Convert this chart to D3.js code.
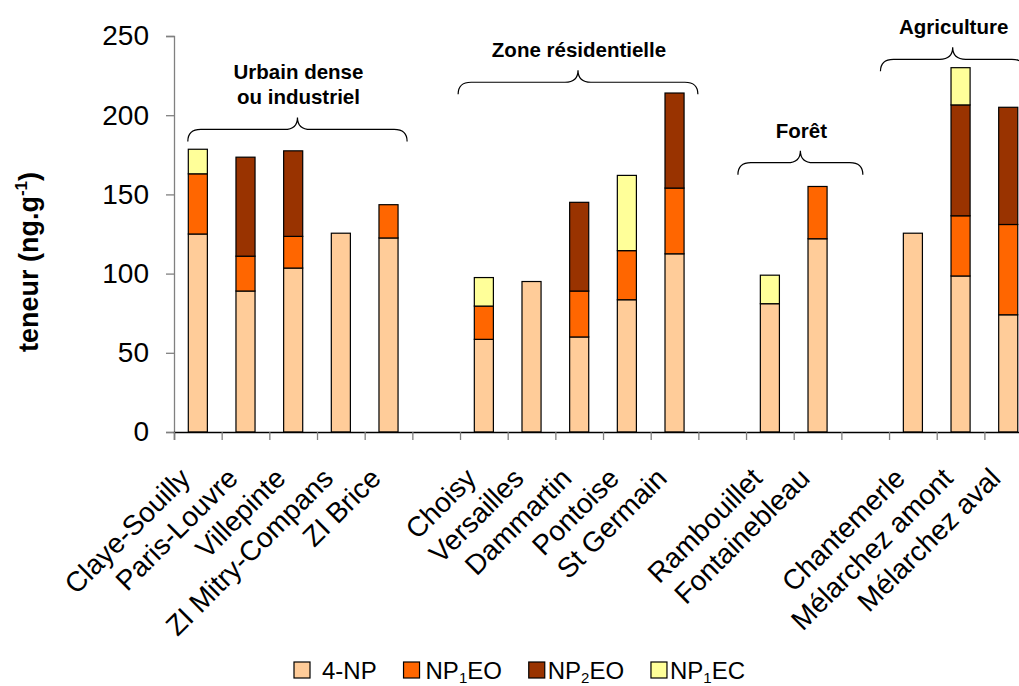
<!DOCTYPE html>
<html>
<head>
<meta charset="utf-8">
<script src="https://cdn.jsdelivr.net/npm/d3@7"></script>
<style>
  html, body { margin: 0; padding: 0; background: #fff; }
  svg { display: block; overflow: hidden; }
  text { font-family: "Liberation Sans", Arial, sans-serif; }
</style>
</head>
<body>
<svg id="chart" width="1019" height="686"></svg>
<script>
// ---------- data ----------
const categories = ["Claye-Souilly", "Paris-Louvre", "Villepinte", "ZI Mitry-Compans", "ZI Brice", "",
  "Choisy", "Versailles", "Dammartin", "Pontoise", "St Germain", "",
  "Rambouillet", "Fontainebleau", "",
  "Chantemerle", "Mélarchez amont", "Mélarchez aval"];
const np4   = [125, 89, 103.5, 125.5, 122.5, 0, 58.5, 95, 60, 83.5, 112.5, 0, 81, 122, 0, 125.5, 98.5, 74];
const np1eo = [38, 22, 20, 0, 21, 0, 21, 0, 29, 31, 41.5, 0, 0, 33, 0, 0, 38, 57];
const np2eo = [0, 62.5, 54, 0, 0, 0, 0, 0, 56, 0, 60, 0, 0, 0, 0, 0, 70, 74];
const np1ec = [15.5, 0, 0, 0, 0, 0, 18, 0, 0, 47.5, 0, 0, 18, 0, 0, 0, 23.5, 0];
const seriesKeys = ["np4", "np1eo", "np2eo", "np1ec"];
const seriesNames = [["4-NP"], ["NP", "1", "EO"], ["NP", "2", "EO"], ["NP", "1", "EC"]];
const seriesColors = ["#FFCC99", "#FF6600", "#993300", "#FFFF99"];
const yTicks = [0, 50, 100, 150, 200, 250];
// group annotations (braces): span in category units, level in y units
const braceLabels = [["Urbain dense", "ou industriel"], ["Zone résidentielle"], ["Forêt"], ["Agriculture"]];
const braceStart = [0.29, 5.96, 11.83, 14.82];
const braceEnd   = [4.89, 10.99, 14.45, 17.85];
const braceLevel = [191, 220.8, 170, 235.3];

// ---------- layout ----------
const svg = d3.select("#chart");
const x0 = 174, x1 = 174 + 18 * 47.67;
const yTop = 36, yBot = 432;

const xBand = d3.scaleBand().domain(d3.range(categories.length)).range([x0, x1])
  .paddingInner(0.6).paddingOuter(0.3);
const xLin = d3.scaleLinear().domain([0, categories.length]).range([x0, x1]);
const y = d3.scaleLinear().domain([0, 250]).range([yBot, yTop]);

const rows = categories.map((c, i) => ({ i, np4: np4[i], np1eo: np1eo[i], np2eo: np2eo[i], np1ec: np1ec[i] }));
const stacked = d3.stack().keys(seriesKeys)(rows);

// bars
stacked.forEach((layer, k) => {
  svg.append("g").selectAll("rect")
    .data(layer.filter(d => d[1] - d[0] > 0))
    .join("rect")
    .attr("x", d => xBand(d.data.i))
    .attr("width", xBand.bandwidth())
    .attr("y", d => y(d[1]))
    .attr("height", d => y(d[0]) - y(d[1]))
    .attr("fill", seriesColors[k])
    .attr("stroke", "#000")
    .attr("stroke-width", 1.2);
});

// y axis
const yAxis = svg.append("g").attr("transform", `translate(${x0},0)`)
  .call(d3.axisLeft(y).tickValues(yTicks).tickSize(8).tickPadding(17).tickFormat(d3.format("d")));
yAxis.select(".domain").attr("stroke", "#808080").attr("stroke-width", 1.3);
yAxis.selectAll(".tick line").attr("stroke", "#808080").attr("stroke-width", 1.3);
yAxis.selectAll(".tick text").attr("font-size", 28).attr("fill", "#000")
  .attr("font-family", "Liberation Sans, Arial, sans-serif");

// x axis (ticks between categories)
const xAxis = svg.append("g").attr("transform", `translate(0,${yBot})`)
  .call(d3.axisBottom(xLin).tickValues(d3.range(0, categories.length + 1)).tickSize(8).tickFormat(""));
xAxis.select(".domain").attr("stroke", "#000").attr("stroke-width", 1.3);
xAxis.selectAll(".tick line").attr("stroke", "#808080").attr("stroke-width", 1.3);

// category labels
svg.append("g").selectAll("text")
  .data(categories.map((c, i) => ({ c, i })).filter(d => d.c))
  .join("text")
  .attr("transform", d => `translate(${xBand(d.i) + xBand.bandwidth() / 2 - 6},${yBot + 48}) rotate(-45)`)
  .attr("text-anchor", "end")
  .attr("font-size", 28)
  .attr("fill", "#000")
  .text(d => d.c);

// y title
const yt = svg.append("text")
  .attr("transform", `translate(38,262) rotate(-90)`)
  .attr("text-anchor", "middle")
  .attr("font-size", 27)
  .attr("font-weight", "bold")
  .attr("fill", "#000");
yt.append("tspan").text("teneur (ng.g");
yt.append("tspan").attr("font-size", 17).attr("dy", -11).text("-1");
yt.append("tspan").attr("dy", 11).text(")");

// braces
braceLabels.forEach((lab, k) => {
  const xa = xLin(braceStart[k]), xb = xLin(braceEnd[k]);
  const yh = y(braceLevel[k]);
  const cx = (xa + xb) / 2;
  const r = 13, h = 12;
  const p = d3.path();
  p.moveTo(xa, yh + h);
  p.quadraticCurveTo(xa, yh, xa + r, yh);
  p.lineTo(cx - r, yh);
  p.quadraticCurveTo(cx, yh, cx, yh - h);
  p.quadraticCurveTo(cx, yh, cx + r, yh);
  p.lineTo(xb - r, yh);
  p.quadraticCurveTo(xb, yh, xb, yh + h);
  svg.append("path").attr("d", p.toString()).attr("fill", "none")
    .attr("stroke", "#000").attr("stroke-width", 1.2);
  const n = lab.length;
  lab.forEach((line, j) => {
    svg.append("text")
      .attr("x", cx + 1)
      .attr("y", yh - h - 13 - (n - 1 - j) * 25)
      .attr("text-anchor", "middle")
      .attr("font-size", 20.5)
      .attr("font-weight", "bold")
      .attr("fill", "#000")
      .text(line);
  });
});

// legend: laid out sequentially between x=294 and x=745
const legLeft = 294, legRight = 745, boxSize = 16;
const legTextGap = [12, 6, 3, 3];
const leg = svg.append("g").attr("transform", "translate(0,679)");
const items = seriesNames.map((nm, k) => {
  const g = leg.append("g");
  g.append("rect").attr("x", 0).attr("y", -17).attr("width", boxSize).attr("height", boxSize)
    .attr("fill", seriesColors[k]).attr("stroke", "#000").attr("stroke-width", 1.2);
  const t = g.append("text").attr("x", boxSize + legTextGap[k]).attr("y", 0).attr("font-size", 24).attr("fill", "#000");
  t.append("tspan").text(nm[0]);
  if (nm.length > 1) {
    t.append("tspan").attr("font-size", 15).attr("dy", 4).text(nm[1]);
    t.append("tspan").attr("dy", -4).text(nm[2]);
  }
  const w = boxSize + legTextGap[k] + t.node().getComputedTextLength();
  return { g, w };
});
const totalW = d3.sum(items, d => d.w);
const gap = (legRight - legLeft - totalW) / (items.length - 1);
let cur = legLeft;
items.forEach(it => { it.g.attr("transform", `translate(${cur},0)`); cur += it.w + gap; });
</script>
</body>
</html>
